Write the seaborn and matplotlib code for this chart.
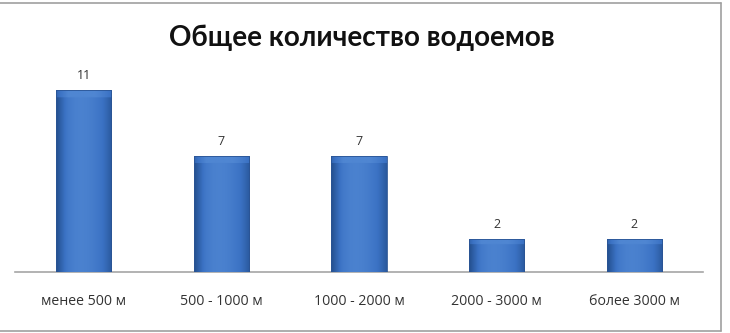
import numpy as np
import pandas as pd
import seaborn as sns
import matplotlib.pyplot as plt
from matplotlib.colors import LinearSegmentedColormap
from matplotlib.lines import Line2D

categories = ["менее 500 м", "500 - 1000 м", "1000 - 2000 м", "2000 - 3000 м", "более 3000 м"]
counts = [11, 7, 7, 2, 2]
title = "Общее количество водоемов"

df = pd.DataFrame({"range": categories, "count": counts})

sns.set_theme(style="white")
plt.rcParams["font.family"] = ["Open Sans", "DejaVu Sans"]

W, H = 730, 333
fig = plt.figure(figsize=(W / 100, H / 100), dpi=100)
fig.patch.set_facecolor("white")
ax = fig.add_axes([15 / W, 1 - 272 / H, (703 - 15) / W, (272 - 60) / H])

sns.barplot(data=df, x="range", y="count", color="#3a6fbf", width=0.4,
            saturation=1, ax=ax, edgecolor="#2a5494", linewidth=0.6)

ax.set_ylim(0, 212 / 16.5)
ax.set_xlim(-0.5, len(categories) - 0.5)
ax.set_xlabel("")
ax.set_ylabel("")
ax.set_yticks([])
for s in ["top", "right", "left"]:
    ax.spines[s].set_visible(False)
ax.spines["bottom"].set_color("#a6a6a6")
ax.spines["bottom"].set_linewidth(1.2)
ax.tick_params(axis="x", length=0, pad=16, labelsize=10.2, labelcolor="#333333")
ax.set_facecolor("none")

# bevelled blue shading on each bar
hgrad = np.array([0.0, 0.35, 0.7, 0.85, 0.9, 0.85, 0.75, 0.6, 0.4, 0.15])
cmap = LinearSegmentedColormap.from_list("bevel", ["#24508f", "#3b72c4", "#4f86d2"])
for bar in ax.patches:
    x0, y0 = bar.get_x(), bar.get_y()
    w, h = bar.get_width(), bar.get_height()
    n = 60
    xs = np.linspace(0, 1, n)
    prof = np.interp(xs, np.linspace(0, 1, len(hgrad)), hgrad)
    img = np.tile(prof, (100, 1))
    # lighter rim at top
    rows = np.linspace(1, 0, 100)
    top_px = 6 / 16.5 / h if h > 0 else 0
    img = img + np.where(rows > 1 - top_px, 0.3, 0.0)[:, None]
    img = np.clip(img, 0, 1)
    im = ax.imshow(img, cmap=cmap, vmin=0, vmax=1, aspect="auto",
                   extent=[x0, x0 + w, y0, y0 + h], origin="upper", zorder=3)
    im.set_clip_path(bar)
    bar.set_zorder(4)
    bar.set_facecolor("none")

for i, v in enumerate(counts):
    ax.text(i, v + 0.5, str(v), ha="center", va="bottom", fontsize=9,
            color="#333333", zorder=5)

fig.text(362 / W, 1 - 38 / H, title, ha="center", va="center",
         fontsize=20, fontweight="bold", color="#111111",
         family=["Lato", "DejaVu Sans"])

# chart frame
fig.add_artist(Line2D([0, 721 / W], [1 - 3 / H, 1 - 3 / H], color="#a0a0a0", lw=1.2))
fig.add_artist(Line2D([721 / W, 721 / W], [1 - 3 / H, 1 - 331 / H], color="#a0a0a0", lw=1.2))
fig.add_artist(Line2D([0, 721 / W], [1 - 331 / H, 1 - 331 / H], color="#a0a0a0", lw=1.2))

fig.savefig("out.png", dpi=100)
